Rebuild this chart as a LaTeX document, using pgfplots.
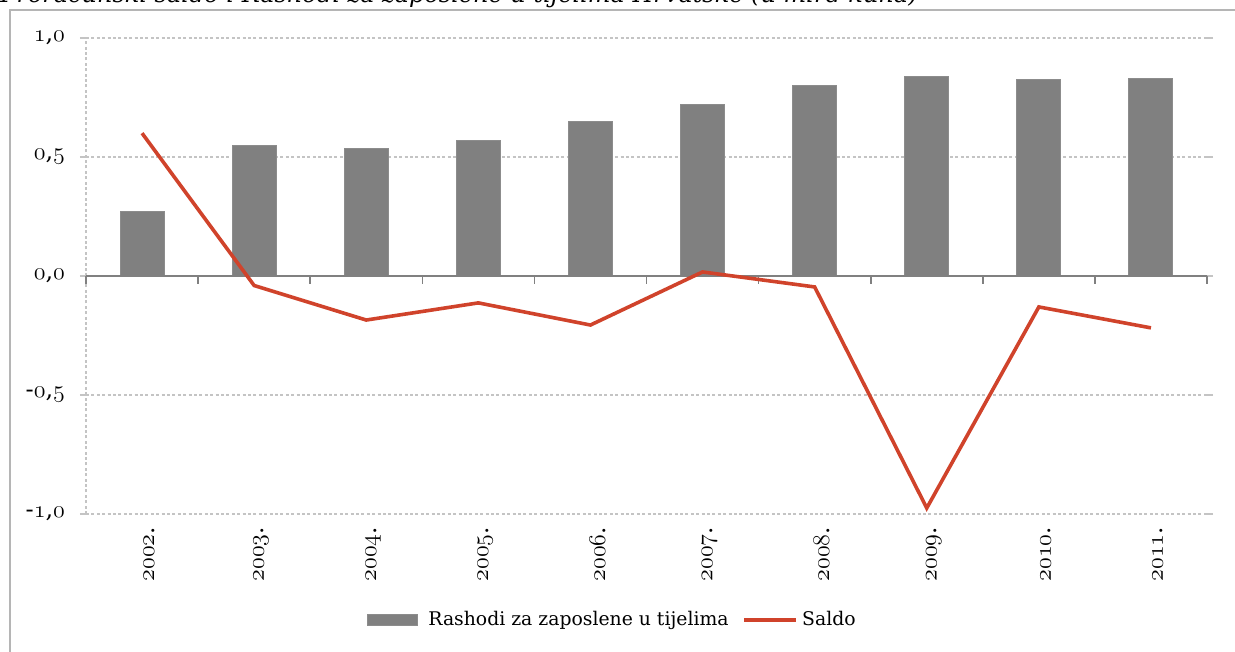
\documentclass[border=0pt]{standalone}
\usepackage{fontspec}
\setmainfont{DejaVu Serif}
\usepackage{pgfplots}
\usepackage{pgfplotstable}
\pgfplotsset{compat=1.18}

\definecolor{barfill}{HTML}{808080}
\definecolor{baredge}{HTML}{8C8C8C}
\definecolor{saldo}{HTML}{D0432B}
\definecolor{gridc}{HTML}{C4C4C4}
\definecolor{framec}{HTML}{B5B5B5}

\pgfplotsset{
  barlegend/.style={legend image code/.code={\draw[##1] (0pt,-2.6pt) rectangle (25pt,2.6pt); \path (28pt,0pt);}},
  linelegend/.style={legend image code/.code={\draw[##1] (0pt,0pt) -- (26pt,0pt);}},
}

% old-style figures from the math italic font
\newcommand{\osn}[1]{{\fontencoding{OML}\fontfamily{cmm}\fontseries{m}\fontshape{it}\selectfont #1}}
\newcommand{\yr}[1]{\osn{#1}.}
\newcommand{\yl}[3]{#1\osn{#2},\osn{#3}}

% rashodi za zaposlene i saldo, u mlrd kuna
\pgfplotstableread{
x year rashodi saldo
0 2002 0.27  0.60
1 2003 0.55 -0.04
2 2004 0.535 -0.185
3 2005 0.57 -0.113
4 2006 0.65 -0.206
5 2007 0.72  0.017
6 2008 0.80 -0.046
7 2009 0.84 -0.975
8 2010 0.825 -0.13
9 2011 0.83 -0.218
}\data

\begin{document}
\begin{tikzpicture}
\begin{axis}[
  at={(43pt,69pt)}, anchor=south west,
  scale only axis, width=560.5pt, height=238pt,
  xmin=-0.5, xmax=9.5, ymin=-1, ymax=1,
  axis line style={draw=none},
  xtick=data,
  xticklabels={\yr{2002},\yr{2003},\yr{2004},\yr{2005},\yr{2006},\yr{2007},\yr{2008},\yr{2009},\yr{2010},\yr{2011}},
  x tick label style={rotate=90, anchor=east, font=\fontsize{11.5}{11.5}\selectfont, yshift=-3.5pt},
  major x tick style={draw=none},
  ytick={-1,-0.5,0.5,1},
  yticklabels={\yl{-}{1}{0},\yl{-}{0}{5},\yl{}{0}{5},\yl{}{1}{0}},
  extra y ticks={0},
  extra y tick labels={\yl{}{0}{0}},
  extra y tick style={grid=none},
  y tick label style={font=\fontsize{12}{12}\selectfont, xshift=-4pt},
  ymajorgrids,
  grid style={gridc, line width=0.6pt, dash pattern=on 1.5pt off 1.2pt},
  major y tick style={gridc, line width=0.6pt},
  tick align=outside, major tick length=3pt,
  legend columns=2,
  legend style={at={(0.4706,-0.2227)}, anchor=center, draw=none, fill=none,
    font=\fontsize{9.4}{12}\selectfont,
    /tikz/every even column/.append style={column sep=5pt}},
  clip=false,
]
\draw[gridc, line width=0.6pt, dash pattern=on 1.5pt off 1.2pt] (axis cs:-0.5,-1) -- (axis cs:-0.5,1);

\addplot[ybar, bar width=22pt, fill=barfill, draw=baredge, line width=0.5pt, barlegend]
  table[x=x, y=rashodi] {\data};
\addlegendentry{Rashodi za zaposlene u tijelima}

\draw[barfill, line width=1.2pt] (axis cs:-0.5,0) -- (axis cs:9.5,0);
\pgfplotsinvokeforeach{-0.5,0.5,...,9.5}{
  \draw[barfill, line width=0.8pt] (axis cs:#1,0) -- ++(0pt,-4pt);
}

\addplot[saldo, line width=1.8pt, linelegend]
  table[x=x, y=saldo] {\data};
\addlegendentry{Saldo}
\end{axis}

\draw[framec, line width=1pt] (5pt,-20pt) -- (5pt,321pt) -- (640pt,321pt);
\node[anchor=base west, inner sep=0pt, font=\itshape\fontsize{12}{12}\selectfont]
  at (0pt,324.5pt) {Proračunski saldo i Rashodi za zaposlene u tijelima Hrvatske (u mlrd kuna)};

\pgfresetboundingbox
\useasboundingbox (0pt,0pt) rectangle (617.5pt,326pt);
\end{tikzpicture}
\end{document}
